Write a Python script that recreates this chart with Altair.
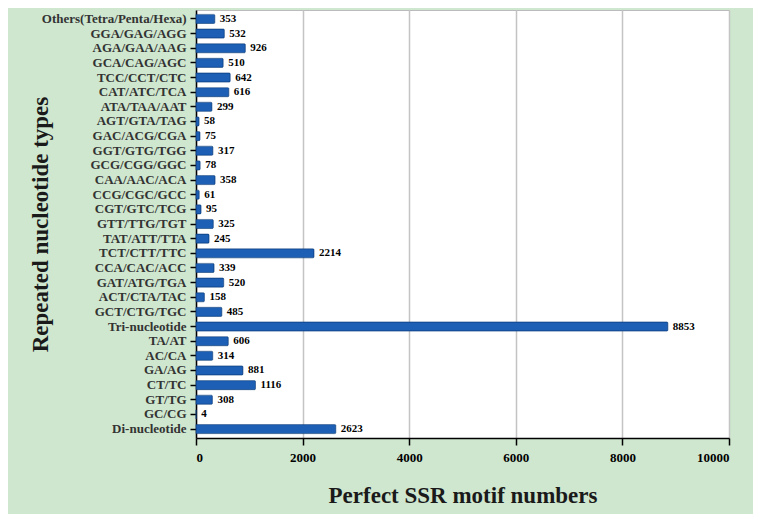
import altair as alt
import pandas as pd

categories = [
    "Others(Tetra/Penta/Hexa)", "GGA/GAG/AGG", "AGA/GAA/AAG", "GCA/CAG/AGC",
    "TCC/CCT/CTC", "CAT/ATC/TCA", "ATA/TAA/AAT", "AGT/GTA/TAG", "GAC/ACG/CGA",
    "GGT/GTG/TGG", "GCG/CGG/GGC", "CAA/AAC/ACA", "CCG/CGC/GCC", "CGT/GTC/TCG",
    "GTT/TTG/TGT", "TAT/ATT/TTA", "TCT/CTT/TTC", "CCA/CAC/ACC", "GAT/ATG/TGA",
    "ACT/CTA/TAC", "GCT/CTG/TGC", "Tri-nucleotide", "TA/AT", "AC/CA", "GA/AG",
    "CT/TC", "GT/TG", "GC/CG", "Di-nucleotide",
]
values = [353, 532, 926, 510, 642, 616, 299, 58, 75, 317, 78, 358, 61, 95,
          325, 245, 2214, 339, 520, 158, 485, 8853, 606, 314, 881, 1116, 308,
          4, 2623]
x_ticks = [0, 2000, 4000, 6000, 8000, 10000]

df = pd.DataFrame({"type": categories, "count": values})

FONT = "Liberation Serif"

y_enc = alt.Y(
    "type:N", sort=categories,
    scale=alt.Scale(paddingInner=0.38, paddingOuter=0.3),
    axis=alt.Axis(title="Repeated nucleotide types", titleFontSize=23,
                  titleFont=FONT, titleFontWeight="bold", titleColor="#1a1a1a",
                  titleX=-144, labelFont=FONT, labelFontWeight="bold",
                  labelFontSize=13, labelColor="#333333", labelPadding=4,
                  tickColor="#000000", tickSize=6, tickWidth=1.5,
                  domainColor="#000000", domainWidth=1.5, grid=False),
)
x_enc = alt.X(
    "count:Q",
    scale=alt.Scale(domain=[0, 10000], nice=False),
    axis=alt.Axis(values=x_ticks, format="d", title="Perfect SSR motif numbers",
                  titleFontSize=23, titleFont=FONT, titleFontWeight="bold",
                  titleColor="#1a1a1a", titlePadding=20, labelFont=FONT,
                  labelFontWeight="bold", labelFontSize=13, labelColor="#000000",
                  labelPadding=6, tickColor="#000000", tickSize=7, tickWidth=1.5,
                  domainColor="#000000", domainWidth=1.5, grid=True,
                  gridColor="#c4c4c4", gridWidth=1.5),
)

bars = alt.Chart(df).mark_bar(color="#1c5fb5", stroke="#0d3f80",
                              strokeWidth=0.6, cornerRadiusEnd=1).encode(
    x=x_enc, y=y_enc)

labels = alt.Chart(df).mark_text(align="left", baseline="middle", dx=5,
                                 font=FONT, fontWeight="bold", fontSize=11,
                                 color="#000000").encode(
    x=alt.X("count:Q"), y=alt.Y("type:N", sort=categories),
    text=alt.Text("count:Q"))

chart = (bars + labels).properties(
    width=533, height=428,
    background="#cfe7cf",
    padding={"left": 188, "top": 2, "right": 24, "bottom": 76},
    autosize=alt.AutoSizeParams(type="none"),
).configure_view(fill="#ffffff", stroke="#bbbbbb", strokeWidth=1)

chart.save("out.html", embed_options={"renderer": "svg", "actions": False})
